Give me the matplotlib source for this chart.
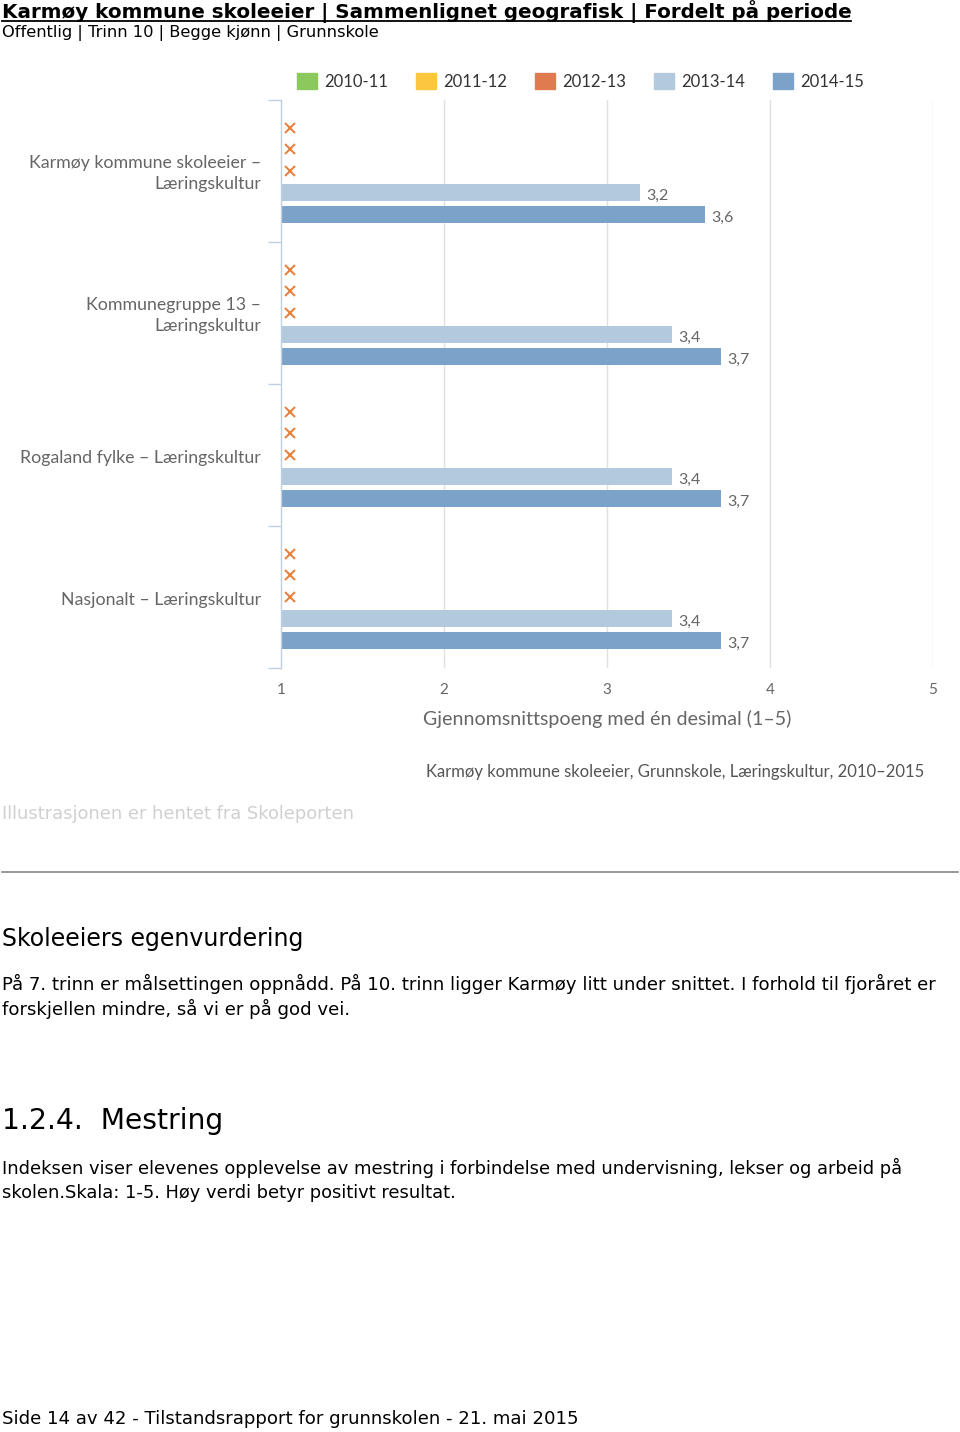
import matplotlib
matplotlib.use("Agg")
import matplotlib.pyplot as plt
import matplotlib.transforms as mtransforms
from matplotlib.patches import Rectangle
import numpy as np

# data
categories = ["Karmøy kommune skoleeier –\nLæringskultur",
              "Kommunegruppe 13 –\nLæringskultur",
              "Rogaland fylke – Læringskultur",
              "Nasjonalt – Læringskultur"]
periods = ["2010-11", "2011-12", "2012-13", "2013-14", "2014-15"]
period_colors = ["#8cc95c", "#fcc63f", "#e07b4f", "#b3c9de", "#7ba2c8"]
v_2010_11 = [None, None, None, None]
v_2011_12 = [None, None, None, None]
v_2012_13 = [None, None, None, None]
v_2013_14 = [3.2, 3.4, 3.4, 3.4]
v_2014_15 = [3.6, 3.7, 3.7, 3.7]
series = [v_2010_11, v_2011_12, v_2012_13, v_2013_14, v_2014_15]
x_ticks = [1, 2, 3, 4, 5]

W, H = 960, 1432
fig = plt.figure(figsize=(W / 100, H / 100), dpi=100)
CHART_FONT = ["Lato", "DejaVu Sans"]
PAGE_FONT = ["DejaVu Sans"]


def fy(py):
    return 1 - py / H


def fx(px):
    return px / W


# page header
fig.text(fx(2), fy(12), "Karmøy kommune skoleeier | Sammenlignet geografisk | Fordelt på periode",
         fontsize=14.3, fontweight="bold", family=PAGE_FONT, va="center", ha="left")
fig.add_artist(plt.Line2D([fx(2), fx(851)], [fy(21), fy(21)], color="black", lw=1.3))
fig.text(fx(2), fy(33), "Offentlig | Trinn 10 | Begge kjønn | Grunnskole",
         fontsize=11.7, family=PAGE_FONT, va="center", ha="left")

# chart axes
ax_l, ax_r, ax_t, ax_b = 281, 933, 100, 668
ax = fig.add_axes([fx(ax_l), fy(ax_b), (ax_r - ax_l) / W, (ax_b - ax_t) / H])
n = len(categories)
ax.set_xlim(1, 5)
ax.set_ylim(n - 0.5, -0.5)
for s in ["top", "right", "bottom"]:
    ax.spines[s].set_visible(False)
ax.spines["left"].set_color("#c0d0e0")
ax.spines["left"].set_linewidth(1)
ax.set_xticks(x_ticks)
ax.set_xticklabels([str(t) for t in x_ticks], family=CHART_FONT, fontsize=11, color="#666666")
ax.tick_params(axis="x", length=0, pad=11)
ax.set_yticks(np.arange(n + 1) - 0.5, minor=False)
ax.set_yticklabels([])
ax.tick_params(axis="y", length=9.4, color="#c0d0e0", width=1)
for t in x_ticks[1:]:
    ax.axvline(t, color="#e0e0e0", lw=1, zorder=0)

slot = 0.153
bar_h = 0.12
y_idx = np.arange(n)
xmark_trans = ax.transData + mtransforms.ScaledTranslation(9 / 100, 0, fig.dpi_scale_trans)
for k, (vals, col) in enumerate(zip(series, period_colors)):
    ys = y_idx + (k - 2) * slot
    for yi, v in zip(ys, vals):
        if v is None:
            ax.plot(1, yi, marker="x", color="#e8843f", markersize=7, mew=1.5,
                    transform=xmark_trans, clip_on=False)
        else:
            ax.barh(yi, v - 1, left=1, height=bar_h, color=col, zorder=2)
            ax.annotate(f"{v:.1f}".replace(".", ","), (v, yi), xytext=(4.5, -2.5),
                        textcoords="offset points", va="center", ha="left",
                        fontsize=11.5, color="#666666", family=CHART_FONT)

# category labels
for i, c in enumerate(categories):
    ax.annotate(c, (0, i), xycoords=("axes fraction", "data"), xytext=(-14.4, -2),
                textcoords="offset points", ha="right", va="center",
                fontsize=12.8, color="#666666", family=CHART_FONT, linespacing=1.4)

ax.set_xlabel("Gjennomsnittspoeng med én desimal (1–5)", fontsize=14.1,
              color="#666666", family=CHART_FONT, labelpad=9)

# legend
lx = 297
for p, col in zip(periods, period_colors):
    fig.add_artist(Rectangle((fx(lx), fy(89)), 20 / W, 16 / H, color=col, transform=fig.transFigure))
    fig.text(fx(lx + 27), fy(82), p, fontsize=12, color="#333333", family=CHART_FONT,
             va="center", ha="left")
    lx += 119

fig.text(fx(924), fy(772), "Karmøy kommune skoleeier, Grunnskole, Læringskultur, 2010–2015",
         fontsize=12, color="#555555", family=CHART_FONT, ha="right", va="center")

fig.text(fx(2), fy(814), "Illustrasjonen er hentet fra Skoleporten",
         fontsize=12.9, color="#d0d0d0", family=PAGE_FONT, va="center")
fig.add_artist(plt.Line2D([fx(2), fx(958)], [fy(872), fy(872)], color="#888888", lw=1.2))

fig.text(fx(2), fy(939), "Skoleeiers egenvurdering", fontsize=17, family=PAGE_FONT, va="center")
fig.text(fx(2), fy(984), "På 7. trinn er målsettingen oppnådd. På 10. trinn ligger Karmøy litt under snittet. I forhold til fjoråret er",
         fontsize=13.1, family=PAGE_FONT, va="center")
fig.text(fx(2), fy(1009), "forskjellen mindre, så vi er på god vei.",
         fontsize=13.1, family=PAGE_FONT, va="center")
fig.text(fx(2), fy(1121), "1.2.4.  Mestring", fontsize=20.3, family=PAGE_FONT, va="center")
fig.text(fx(2), fy(1168), "Indeksen viser elevenes opplevelse av mestring i forbindelse med undervisning, lekser og arbeid på",
         fontsize=12.9, family=PAGE_FONT, va="center")
fig.text(fx(2), fy(1193), "skolen.Skala: 1-5. Høy verdi betyr positivt resultat.",
         fontsize=12.9, family=PAGE_FONT, va="center")
fig.text(fx(2), fy(1419), "Side 14 av 42 - Tilstandsrapport for grunnskolen - 21. mai 2015",
         fontsize=13.1, family=PAGE_FONT, va="center")

fig.savefig("out.png", dpi=100, facecolor="white")
